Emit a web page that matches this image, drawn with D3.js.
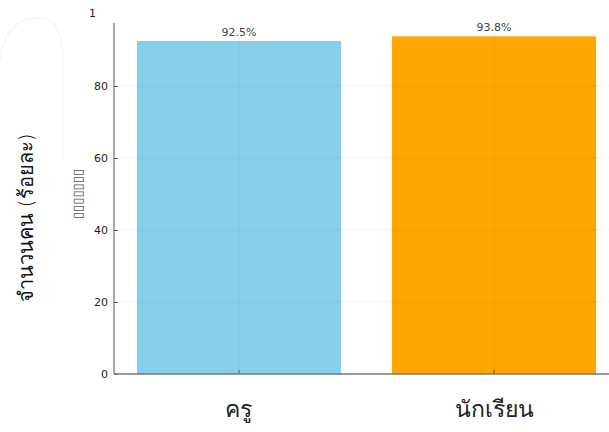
<!DOCTYPE html>
<html>
<head>
<meta charset="utf-8">
<script src="https://cdn.jsdelivr.net/npm/d3@7"></script>
<style>
  html, body { margin: 0; padding: 0; background: #fff; }
  svg { display: block; }
  text { font-family: "DejaVu Sans", "Noto Sans", sans-serif; }
</style>
</head>
<body>
<svg id="chart" width="609" height="432"></svg>
<script>
// ---- data ----
const categories = ["ครู", "นักเรียน"];
const values = [92.5, 93.8];
const valueLabels = ["92.5%", "93.8%"];
const barColors = ["#87CEEB", "#FFA500"];
const yTicks = [0, 20, 40, 60, 80];
const yTopStray = "1";
const yLabel = "จำนวนคน (ร้อยละ)";
const yLabelMissing = "▯▯▯▯▯▯▯";

// ---- layout ----
const svg = d3.select("#chart");
const mLeft = 114, mRight = 619, mTop = 23, mBottom = 374;

const x = d3.scaleBand().domain(categories).range([mLeft, mRight])
  .paddingInner(0.2).paddingOuter(0.09);
const y = d3.scaleLinear().domain([0, 100]).range([mBottom, mBottom - 360]);

// faint watermark
svg.append("path")
  .attr("d", "M0,60 Q5,15 45,18 Q62,22 63,60 L63,160")
  .attr("fill", "none").attr("stroke", "#f5f5f5").attr("stroke-width", 1.5);

// bars
svg.selectAll("rect.bar").data(categories).join("rect")
  .attr("class", "bar")
  .attr("x", d => x(d))
  .attr("width", x.bandwidth())
  .attr("y", (d, i) => y(values[i]))
  .attr("height", (d, i) => y(0) - y(values[i]))
  .attr("fill", (d, i) => barColors[i]);

// grid lines (on top, faint)
const g = svg.append("g");
g.selectAll("line.hg").data(yTicks.filter(t => t > 0)).join("line")
  .attr("x1", mLeft).attr("x2", 609)
  .attr("y1", d => y(d)).attr("y2", d => y(d))
  .attr("stroke", "#000").attr("stroke-opacity", 0.08).attr("stroke-width", 0.6);
g.selectAll("line.vg").data(categories).join("line")
  .attr("x1", d => x(d) + x.bandwidth() / 2).attr("x2", d => x(d) + x.bandwidth() / 2)
  .attr("y1", mTop).attr("y2", mBottom)
  .attr("stroke", "#000").attr("stroke-opacity", 0.08).attr("stroke-width", 0.6);

// axes
const yAxis = d3.axisLeft(y).tickValues(yTicks).tickSize(-4).tickPadding(6);
const ya = svg.append("g").attr("transform", `translate(${mLeft},0)`).call(yAxis);
ya.select(".domain").remove();
ya.selectAll(".tick line").attr("stroke", "#555");
ya.selectAll(".tick text").attr("font-size", 11).attr("fill", "#222")
  .attr("font-family", "DejaVu Sans, sans-serif");

const xAxis = d3.axisBottom(x).tickSize(-4).tickPadding(22);
const xa = svg.append("g").attr("transform", `translate(0,${mBottom})`).call(xAxis);
xa.select(".domain").remove();
xa.selectAll(".tick line").attr("stroke", "#555");
xa.selectAll(".tick text").attr("font-size", 23).attr("fill", "#222")
  .attr("font-weight", 300)
  .attr("font-family", "Noto Sans, sans-serif").attr("dy", "0.9em");

// spines
svg.append("line").attr("x1", mLeft).attr("x2", mLeft).attr("y1", mTop).attr("y2", mBottom)
  .attr("stroke", "#777").attr("stroke-width", 1.3);
svg.append("line").attr("x1", mLeft).attr("x2", 609).attr("y1", mBottom).attr("y2", mBottom)
  .attr("stroke", "#777").attr("stroke-width", 1.3);

// stray top tick label
svg.append("text").attr("x", 89).attr("y", 17).attr("font-size", 11)
  .attr("fill", "#222").text(yTopStray);

// value labels
svg.selectAll("text.val").data(categories).join("text")
  .attr("class", "val")
  .attr("x", d => x(d) + x.bandwidth() / 2)
  .attr("y", (d, i) => y(values[i]) - 5)
  .attr("text-anchor", "middle").attr("font-size", 11).attr("fill", "#444")
  .text((d, i) => valueLabels[i]);

// y labels
svg.append("text")
  .attr("transform", "translate(33,218) rotate(-90)")
  .attr("text-anchor", "middle").attr("font-size", 20).attr("fill", "#111")
  .attr("font-weight", 300)
  .attr("font-family", "Noto Sans, sans-serif")
  .text(yLabel);
svg.append("text")
  .attr("transform", "translate(82,194) rotate(-90)")
  .attr("text-anchor", "middle").attr("font-size", 13).attr("fill", "#555")
  .attr("font-family", "DejaVu Sans, sans-serif")
  .text(yLabelMissing);
</script>
</body>
</html>
